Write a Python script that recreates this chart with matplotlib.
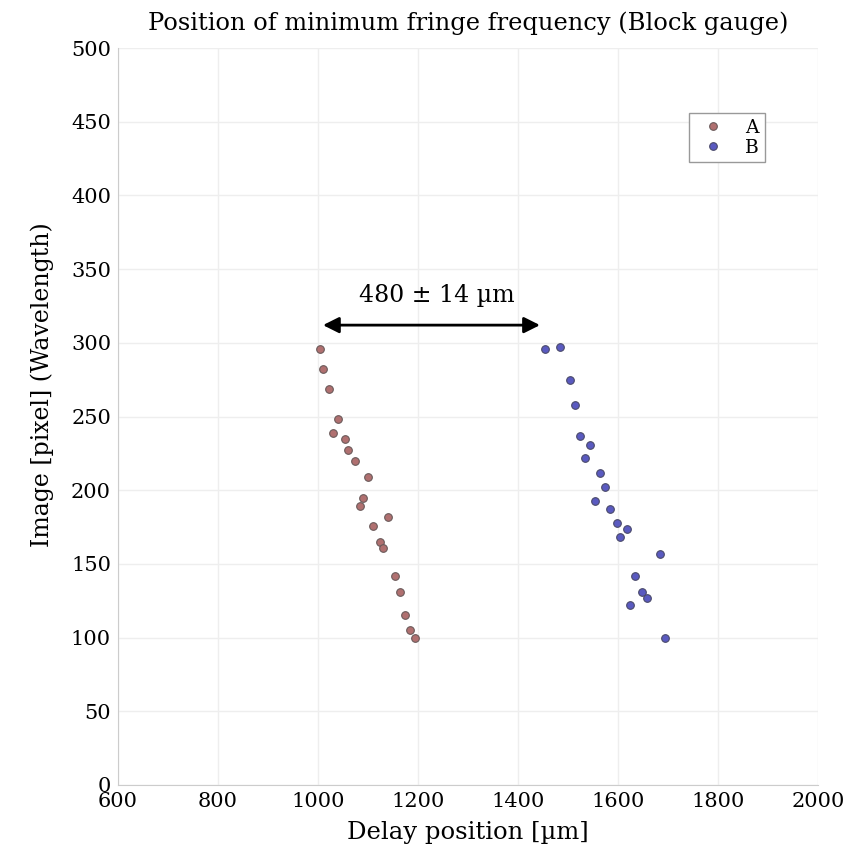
import numpy as np
import matplotlib
matplotlib.use("Agg")
from matplotlib import pyplot as plt

# Block gauge A: delay position [um] and image pixel
a_x = [1004, 1010, 1022, 1040, 1030, 1054, 1060, 1074, 1100, 1090,
       1084, 1140, 1110, 1124, 1130, 1154, 1164, 1174, 1184, 1194]
a_y = [296, 282, 269, 248, 239, 235, 227, 220, 209, 195,
       189, 182, 176, 165, 161, 142, 131, 115, 105, 100]

# Block gauge B
b_x = [1454, 1484, 1504, 1514, 1524, 1544, 1534, 1564, 1574, 1554,
       1584, 1598, 1618, 1604, 1684, 1634, 1648, 1658, 1624, 1694]
b_y = [296, 297, 275, 258, 237, 231, 222, 212, 202, 193,
       187, 178, 174, 168, 157, 142, 131, 127, 122, 100]

# arrow between the two edges
arrow_x = [1010, 1444]
arrow_y = 312
arrow_text = "480 \u00b1 14 \u00b5m"

plt.rcParams['font.family'] = ['DejaVu Serif']
plt.rcParams['font.size'] = 15

fig = plt.figure(figsize=(8.65, 8.67), dpi=100)
ax = fig.add_axes([0.1364, 0.0946, 0.8092, 0.85])

ax.plot(a_x, a_y, 'o', ms=5.5, mfc='#b07070', mec='#6a5a5a', mew=0.8, label='A')
ax.plot(b_x, b_y, 'o', ms=5.5, mfc='#5a5ac0', mec='#4a4a6a', mew=0.8, label='B')

ax.annotate('', xy=(arrow_x[0], arrow_y), xytext=(arrow_x[1], arrow_y),
            arrowprops=dict(arrowstyle='<|-|>', color='black', lw=2,
                            mutation_scale=24, shrinkA=0, shrinkB=0))
ax.text(1238, arrow_y + 20, arrow_text, ha='center', va='center', fontsize=17)

ax.set_xlim(600, 2000)
ax.set_ylim(0, 500)
ax.set_xticks(np.arange(600, 2001, 200))
ax.set_yticks(np.arange(0, 501, 50))
ax.grid(True, color='#eeeeee', lw=1)
ax.tick_params(length=0, pad=5)
for s in ['top', 'right']:
    ax.spines[s].set_visible(False)
for s in ['left', 'bottom']:
    ax.spines[s].set_color('#cccccc')

ax.set_title('Position of minimum fringe frequency (Block gauge)', pad=13,
             fontsize=17.4)
ax.set_xlabel('Delay position [\u00b5m]', labelpad=7, fontsize=17.5)
ax.set_ylabel('Image [pixel] (Wavelength)', fontsize=17)
ax.yaxis.set_label_coords(-0.092, 0.543)

leg = ax.legend(loc='upper right', bbox_to_anchor=(0.924, 0.912),
                fancybox=False, framealpha=1, edgecolor='#999999',
                fontsize=13.5, handletextpad=0.7, borderpad=0.3,
                labelspacing=0.12, handlelength=2.0, borderaxespad=0)

fig.savefig('out.png', dpi=100)
